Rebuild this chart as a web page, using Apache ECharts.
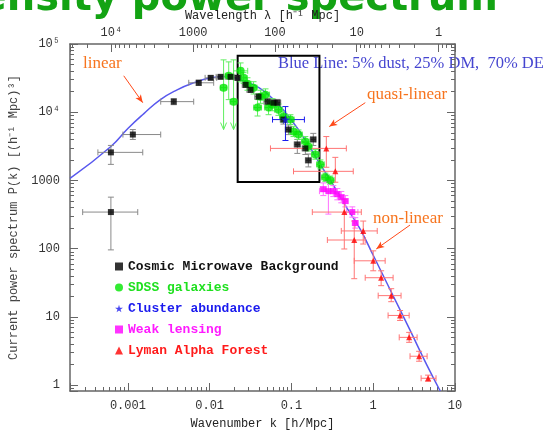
<!DOCTYPE html>
<html>
<head>
<meta charset="utf-8">
<script src="https://cdn.jsdelivr.net/npm/echarts@6/dist/echarts.min.js"></script>
<style>
html, body { margin: 0; padding: 0; background: #fff; }
#chart { width: 548px; height: 435px; }
</style>
</head>
<body>
<div id="chart"></div>
<script>
// theory curve: 5% dust, 25% DM, 70% DE
const curveK = [0.000196, 0.00062, 0.001, 0.00157, 0.0025, 0.004, 0.0064, 0.0103, 0.0165, 0.0226, 0.04, 0.064, 0.103, 0.16, 0.213, 0.3, 0.48, 0.69, 1.0, 1.75, 2.8, 4.5, 6.6];
const curveP = [1070, 3150, 5770, 9550, 15300, 21300, 27000, 31900, 33500, 30500, 22900, 14300, 7300, 3370, 1900, 1000, 390, 195, 80, 20.4, 6.5, 2.0, 0.82];

// Cosmic Microwave Background
const cmbK = [0.00062, 0.00062, 0.00115, 0.00364, 0.00735, 0.0103, 0.0136, 0.018, 0.0219, 0.0275, 0.0316, 0.0396, 0.051, 0.0603, 0.0675, 0.0798, 0.0919, 0.118, 0.148, 0.161, 0.185];
const cmbP = [344, 2580, 4710, 14300, 27000, 31900, 33000, 33000, 31900, 25200, 21300, 16900, 14300, 13800, 13800, 7800, 5570, 3370, 2950, 1970, 3990];
const cmbKErr = [[0.00028, 0.00132], [0.00043, 0.00152], [0.00087, 0.00252], [0.00252, 0.00638], [0.00555, 0.0112], [0.0088, 0.0122], [0.012, 0.0155], [0.016, 0.0203], [0.0195, 0.0245], [0.025, 0.0305], [0.0285, 0.035], [0.0355, 0.044], [0.046, 0.056], [0.055, 0.066], [0.062, 0.074], [0.073, 0.087], [0.084, 0.1], [0.108, 0.129], [0.135, 0.162], [0.148, 0.175], [0.17, 0.2]];
const cmbPErr = [[96, 569], [1720, 3260], [3990, 5570], [12900, 15800], [24800, 29500], [30000, 34000], [31000, 35000], [31000, 35000], [29500, 34500], [23000, 27500], [19500, 23500], [15300, 18700], [12800, 16000], [12300, 15400], [12300, 15400], [6700, 9100], [4700, 6500], [2490, 3990], [2400, 3600], [1580, 2440], [3250, 4900]];

// SDSS galaxies
const sdssK = [0.0171, 0.0239, 0.026, 0.029, 0.0344, 0.0385, 0.0419, 0.0482, 0.0525, 0.0587, 0.0694, 0.0798, 0.0972, 0.106, 0.122, 0.148, 0.161, 0.196, 0.226, 0.26, 0.299];
const sdssP = [34200, 40400, 31900, 26100, 22900, 11700, 16900, 18100, 11700, 12900, 10900, 8630, 7800, 5210, 4710, 3720, 3150, 2410, 1720, 1110, 1010];
const sdssKErr = [[0.0155, 0.0188], [0.0196, 0.0292], [0.0235, 0.0288], [0.0262, 0.032], [0.031, 0.038], [0.0345, 0.043], [0.0375, 0.0468], [0.043, 0.054], [0.047, 0.0585], [0.0525, 0.0655], [0.062, 0.0775], [0.0715, 0.089], [0.087, 0.108], [0.095, 0.118], [0.109, 0.136], [0.133, 0.165], [0.145, 0.179], [0.176, 0.218], [0.203, 0.252], [0.234, 0.29], [0.269, 0.333]];
const sdssPErr = [[15300, 54700], [27900, 52800], [26500, 38000], [21000, 32000], [18500, 28000], [8800, 15500], [13500, 21000], [14800, 22000], [9200, 14800], [10500, 15800], [9000, 13200], [7200, 10300], [6600, 9200], [4400, 6200], [4000, 5500], [3150, 4400], [2700, 3700], [2050, 2850], [1480, 2000], [960, 1280], [880, 1160]];
// SDSS points whose lower bar is an upper-limit arrow
const sdssLimK = [0.0148, 0.0196];
const sdssLimP = [22900, 14300];
const sdssLimKErr = [[0.0135, 0.0162], [0.0178, 0.0215]];
const sdssLimPErr = [[5570, 58500], [5570, 58500]];

// Cluster abundance
const clusterK = [0.0845];
const clusterP = [7800];
const clusterKErr = [[0.0587, 0.144]];
const clusterPErr = [[3850, 12100]];

// Weak lensing
const wlK = [0.245, 0.283, 0.325, 0.364, 0.407, 0.456, 0.555, 0.603];
const wlP = [745, 697, 697, 630, 569, 498, 344, 238];
const wlKErr = [[0.225, 0.267], [0.22, 0.36], [0.3, 0.352], [0.335, 0.395], [0.375, 0.442], [0.42, 0.495], [0.47, 0.65], [0.555, 0.655]];
const wlPErr = [[600, 920], [321, 973], [580, 840], [520, 760], [470, 690], [410, 600], [290, 410], [200, 285]];

// Lyman Alpha Forest
const lyaK = [0.267, 0.344, 0.443, 0.586, 0.755, 1.0, 1.25, 1.66, 2.13, 2.75, 3.64, 4.69];
const lyaP = [2950, 1360, 344, 134, 182, 66.4, 37.5, 20.5, 10.5, 5.01, 2.65, 1.26];
const lyaKErr = [[0.0554, 0.469], [0.106, 0.57], [0.18, 0.715], [0.275, 0.798], [0.407, 1.12], [0.586, 1.4], [0.798, 1.75], [1.15, 2.19], [1.52, 2.75], [2.08, 3.44], [2.82, 4.56], [3.85, 5.86]];
const lyaPErr = [[1560, 4400], [942, 2180], [99, 532], [36.3, 254], [117, 254], [47.4, 92.9], [28.7, 47.4], [16.7, 25.9], [8.87, 12.4], [4.24, 5.93], [2.24, 3.13], [1.14, 1.4]];

// tick labels
const kTicks = [0.001, 0.01, 0.1, 1, 10];
const kTickLabels = ['0.001', '0.01', '0.1', '1', '10'];
const lamTicks = [1, 10, 100, 1000, 10000];
const lamTickLabels = ['1', '10', '100', '1000', '10\u2074'];
const pTicks = [1, 10, 100, 1000, 10000, 100000];
const pTickLabels = ['1', '10', '100', '1000', '10\u2074', '10\u2075'];

// zoomed region box and annotation arrows (data coords)
const boxCorners = [[0.022, 67000], [0.22, 950]];
const arrows = [
    [[0.00089, 34200], [0.00152, 13800]],
    [[0.8, 13800], [0.29, 6170]],
    [[2.82, 222], [1.09, 99]],
];

const kMin = 1.96e-4;
const kMax = 10;
const pMin = 0.82;
const pMax = 1e5;

const mono = 'Liberation Mono';
const axisColor = '#666';

function tickFormatter(values, labels) {
    return (v) => {
        const i = values.findIndex((t) => Math.abs(v / t - 1) < 1e-6);
        return i >= 0 ? labels[i] : '';
    };
}

function zipErr(K, P, KErr, PErr) {
    return K.map((k, i) => [k, P[i], KErr[i][0], KErr[i][1], PErr[i][0], PErr[i][1]]);
}

function errorBars(color, limit) {
    return (params, api) => {
        const p = api.coord([api.value(0), api.value(1)]);
        const l = api.coord([api.value(2), api.value(1)]);
        const r = api.coord([api.value(3), api.value(1)]);
        const lo = api.coord([api.value(0), api.value(4)]);
        const hi = api.coord([api.value(0), api.value(5)]);
        const c = 3;
        const style = { stroke: color, lineWidth: 1, fill: null };
        const seg = (x1, y1, x2, y2) => ({ type: 'line', shape: { x1, y1, x2, y2 }, style });
        const children = [
            seg(l[0], p[1], r[0], p[1]),
            seg(l[0], p[1] - c, l[0], p[1] + c),
            seg(r[0], p[1] - c, r[0], p[1] + c),
            seg(p[0], hi[1], p[0], lo[1]),
            seg(p[0] - c, hi[1], p[0] + c, hi[1]),
        ];
        if (limit) {
            children.push({ type: 'polyline', shape: { points: [[p[0] - 3, lo[1] - 7], [p[0], lo[1]], [p[0] + 3, lo[1] - 7]] }, style });
        } else {
            children.push(seg(p[0] - c, lo[1], p[0] + c, lo[1]));
        }
        return { type: 'group', children };
    };
}

function barSeries(data, color, limit) {
    return {
        type: 'custom',
        xAxisIndex: 0,
        yAxisIndex: 0,
        renderItem: errorBars(color, limit),
        encode: { x: 0, y: 1 },
        data,
        clip: true,
        silent: true,
        z: 2,
    };
}

const starPath = 'path://M50,0 L61,35 L98,35 L68,57 L79,91 L50,70 L21,91 L32,57 L2,35 L39,35 Z';

const names = ['Cosmic Microwave Background', 'SDSS galaxies', 'Cluster abundance', 'Weak lensing', 'Lyman Alpha Forest'];

const chart = echarts.init(document.getElementById('chart'), null, { renderer: 'canvas' });

const option = {
    animation: false,
    backgroundColor: '#fff',
    grid: { left: 69, right: 93, top: 44, bottom: 42, containLabel: false },
    xAxis: [
        {
            type: 'log',
            min: kMin,
            max: kMax,
            position: 'bottom',
            name: 'Wavenumber k [h/Mpc]',
            nameLocation: 'middle',
            nameGap: 27,
            nameTextStyle: { fontFamily: mono, fontSize: 12, color: '#222' },
            axisLine: { lineStyle: { color: axisColor, width: 1.5 } },
            axisTick: { inside: true, length: 8, lineStyle: { color: axisColor } },
            minorTick: { show: true, splitNumber: 9, length: 4, lineStyle: { color: axisColor } },
            axisLabel: { formatter: tickFormatter(kTicks, kTickLabels), fontFamily: mono, fontSize: 12, color: '#333', margin: 9 },
            splitLine: { show: false },
        },
        {
            type: 'log',
            inverse: true,
            min: 2 * Math.PI / kMax,
            max: 2 * Math.PI / kMin,
            position: 'top',
            z: 5,
            name: 'Wavelength \u03bb [h\u207b\u00b9 Mpc]',
            nameLocation: 'middle',
            nameGap: 21,
            nameTextStyle: { fontFamily: mono, fontSize: 12, color: '#222' },
            axisLine: { lineStyle: { color: axisColor, width: 1.5 } },
            axisTick: { inside: true, length: 8, lineStyle: { color: axisColor } },
            minorTick: { show: true, splitNumber: 9, length: 4, lineStyle: { color: axisColor } },
            axisLabel: { formatter: tickFormatter(lamTicks, lamTickLabels), fontFamily: mono, fontSize: 12, color: '#333', margin: 5 },
            splitLine: { show: false },
        },
    ],
    yAxis: [
        {
            type: 'log',
            min: pMin,
            max: pMax,
            position: 'left',
            name: 'Current power spectrum P(k) [(h\u207b\u00b9 Mpc)\u00b3]',
            nameLocation: 'middle',
            nameGap: 50,
            nameTextStyle: { fontFamily: mono, fontSize: 12, color: '#444' },
            axisLine: { lineStyle: { color: axisColor, width: 1.5 } },
            axisTick: { inside: true, length: 8, lineStyle: { color: axisColor } },
            minorTick: { show: true, splitNumber: 9, length: 4, lineStyle: { color: axisColor } },
            axisLabel: { formatter: tickFormatter(pTicks, pTickLabels), fontFamily: mono, fontSize: 12, color: '#333', margin: 10 },
            splitLine: { show: false },
        },
        {
            type: 'log',
            min: pMin,
            max: pMax,
            position: 'right',
            axisLine: { lineStyle: { color: axisColor, width: 1.5 } },
            axisTick: { inside: true, length: 8, lineStyle: { color: axisColor } },
            minorTick: { show: true, splitNumber: 9, length: 4, lineStyle: { color: axisColor } },
            axisLabel: { show: false },
            splitLine: { show: false },
        },
    ],
    legend: {
        orient: 'vertical',
        left: 110,
        top: 255,
        itemWidth: 8,
        itemHeight: 8,
        itemGap: 8,
        selectedMode: false,
        textStyle: { fontFamily: mono, fontWeight: 'bold', fontSize: 13 },
        data: [
            { name: names[0], icon: 'rect', textStyle: { color: '#111' } },
            { name: names[1], icon: 'circle', textStyle: { color: '#1ee01e' } },
            { name: names[2], icon: starPath, textStyle: { color: '#1a1aee' } },
            { name: names[3], icon: 'rect', textStyle: { color: '#ff1aff' } },
            { name: names[4], icon: 'triangle', textStyle: { color: '#ff1a1a' } },
        ],
    },
    graphic: [
        {
            type: 'text', x: 498, y: 0, z: -1,
            style: { text: 'Density power spectrum', fill: '#13a313', font: 'bold 40px "DejaVu Sans"', align: 'right', verticalAlign: 'middle' },
        },
        { type: 'text', x: 83, y: 64, style: { text: 'linear', fill: '#f7741e', font: '17px "Liberation Serif"', verticalAlign: 'middle' } },
        { type: 'text', x: 278, y: 64, style: { text: 'Blue Line: 5% dust, 25% DM,  70% DE', fill: '#4545d0', font: '16.5px "Liberation Serif"', verticalAlign: 'middle' } },
        { type: 'text', x: 367, y: 95, style: { text: 'quasi-linear', fill: '#f7741e', font: '17px "Liberation Serif"', verticalAlign: 'middle' } },
        { type: 'text', x: 373, y: 219, style: { text: 'non-linear', fill: '#f7741e', font: '17px "Liberation Serif"', verticalAlign: 'middle' } },
    ],
    series: [
        {
            type: 'line',
            name: 'theory',
            data: curveK.map((k, i) => [k, curveP[i]]),
            smooth: true,
            symbol: 'none',
            clip: true,
            lineStyle: { color: '#5858ee', width: 1.5 },
            z: 1,
            markArea: {
                silent: true,
                itemStyle: { color: 'rgba(0,0,0,0)', borderColor: '#000', borderWidth: 2 },
                data: [[{ coord: boxCorners[0] }, { coord: boxCorners[1] }]],
            },
            markLine: {
                silent: true,
                symbol: ['none', 'arrow'],
                symbolSize: [5, 8],
                label: { show: false },
                lineStyle: { color: '#ff4a1a', width: 1, type: 'solid' },
                data: arrows.map((a) => [{ coord: a[0] }, { coord: a[1] }]),
            },
        },
        barSeries(zipErr(cmbK, cmbP, cmbKErr, cmbPErr), '#8a8a8a', false),
        barSeries(zipErr(sdssK, sdssP, sdssKErr, sdssPErr), '#60ee60', false),
        barSeries(zipErr(sdssLimK, sdssLimP, sdssLimKErr, sdssLimPErr), '#60ee60', true),
        barSeries(zipErr(clusterK, clusterP, clusterKErr, clusterPErr), '#1a1aee', false),
        barSeries(zipErr(wlK, wlP, wlKErr, wlPErr), '#ff70ff', false),
        barSeries(zipErr(lyaK, lyaP, lyaKErr, lyaPErr), '#ff7575', false),
        {
            type: 'scatter', name: names[0], symbol: 'rect', symbolSize: 6, z: 4,
            itemStyle: { color: '#000' },
            data: cmbK.map((k, i) => [k, cmbP[i]]),
        },
        {
            type: 'scatter', name: names[1], symbol: 'circle', symbolSize: 8, z: 3,
            itemStyle: { color: '#00e600' },
            data: sdssK.map((k, i) => [k, sdssP[i]]).concat(sdssLimK.map((k, i) => [k, sdssLimP[i]])),
        },
        {
            type: 'scatter', name: names[2], symbol: starPath, symbolSize: 9, z: 4,
            itemStyle: { color: '#1a1aee' },
            data: clusterK.map((k, i) => [k, clusterP[i]]),
        },
        {
            type: 'scatter', name: names[3], symbol: 'rect', symbolSize: 6, z: 4,
            itemStyle: { color: '#ff00ff' },
            data: wlK.map((k, i) => [k, wlP[i]]),
        },
        {
            type: 'scatter', name: names[4], symbol: 'triangle', symbolSize: 6, z: 4,
            itemStyle: { color: '#ff0000' },
            data: lyaK.map((k, i) => [k, lyaP[i]]),
        },
    ],
};

chart.setOption(option);
</script>
</body>
</html>
